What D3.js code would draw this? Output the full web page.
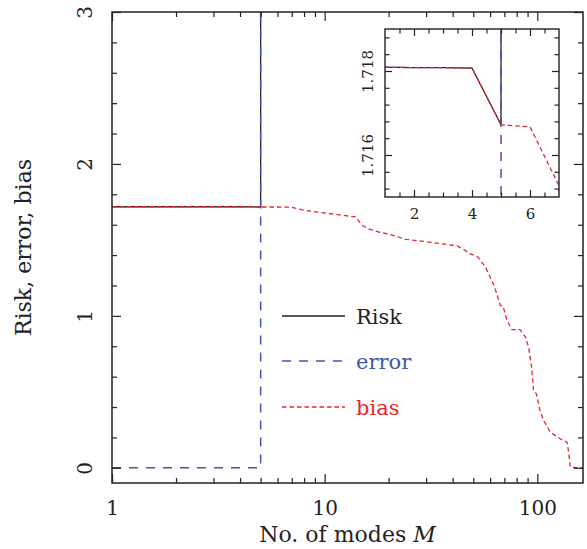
<!DOCTYPE html>
<html>
<head>
<meta charset="utf-8">
<script src="https://cdn.jsdelivr.net/npm/d3@7"></script>
<style>
  body { margin: 0; background: #fff; }
  svg { display: block; font-family: "DejaVu Serif", serif; }
</style>
</head>
<body>
<div id="chart"></div>
<script>
// values (risk and error leave the top of the plot after M = 5)
const riskM = [1, 2, 3, 4, 5, 5];
const riskVal = [1.71809, 1.71808, 1.71808, 1.71807, 1.71672, 3.2];

const errorM = [1, 5, 5];
const errorVal = [0, 0, 3.2];

const biasM = [1, 2, 3, 4, 5, 6, 7, 8, 14, 15, 16, 18, 21, 24, 31, 42, 45, 48, 52, 54,
  57, 60, 63, 67, 69, 72, 76, 83, 88, 91, 94, 96, 99, 103, 107, 115, 128, 138, 140, 143, 164];
const biasVal = [1.71809, 1.71808, 1.71808, 1.71807, 1.71672, 1.71667, 1.71527, 1.695, 1.651, 1.596,
  1.574, 1.552, 1.530, 1.504, 1.486, 1.460, 1.438, 1.410, 1.392, 1.366,
  1.322, 1.256, 1.190, 1.069, 1.063, 0.970, 0.909, 0.909, 0.860, 0.794,
  0.663, 0.509, 0.487, 0.377, 0.312, 0.235, 0.191, 0.169, 0.114, 0.004, 0];

const xMajorTicks = [1, 10, 100];
const yMajorTicks = [0, 1, 2, 3];
const insetXTicks = [2, 4, 6];
const insetYTicks = [1.716, 1.718];

const seriesNames = ["Risk", "error", "bias"];

const W = 587, H = 549;
const colors = { Risk: "#222", error: "#3d5aa8", bias: "#e8262e" };
const dashes = { Risk: null, error: "9,8", bias: "4.5,3" };

const svg = d3.select("#chart").append("svg")
  .attr("width", W).attr("height", H);

// main axes box
const main = { left: 112, top: 12, right: 583, bottom: 483 };
const x = d3.scaleLog().domain([1, 164]).range([main.left, main.right]);
const y = d3.scaleLinear().domain([-0.1, 3]).range([main.bottom, main.top]);

const xMinor = [];
[1, 10, 100].forEach(d => { for (let k = 2; k <= 9; k++) if (d * k <= 164) xMinor.push(d * k); });
const yMinor = d3.range(0, 3.001, 0.2).filter(v => Math.abs(v - Math.round(v)) > 1e-6);

svg.append("defs").append("clipPath").attr("id", "clipMain")
  .append("rect").attr("x", main.left).attr("y", main.top)
  .attr("width", main.right - main.left).attr("height", main.bottom - main.top);

function makeLine(xs, ys, sx, sy) {
  return d3.line().x(i => sx(xs[i])).y(i => sy(ys[i]))(d3.range(xs.length));
}

function drawSeries(g, sx, sy, clipId) {
  const data = {
    Risk: [riskM, riskVal],
    error: [errorM, errorVal],
    bias: [biasM, biasVal]
  };
  seriesNames.forEach(name => {
    g.append("path")
      .attr("d", makeLine(data[name][0], data[name][1], sx, sy))
      .attr("clip-path", `url(#${clipId})`)
      .attr("fill", "none")
      .attr("stroke", colors[name])
      .attr("stroke-width", name === "error" ? 1.5 : 1.3)
      .attr("stroke-dasharray", dashes[name]);
  });
}

function ticksAround(g, box, sx, sy, xMaj, xMin, yMaj, yMin, majLen, minLen) {
  // inward ticks on all four sides, using d3 axes
  const add = (axisFn, scale, vals, len, transform) => {
    const a = g.append("g").attr("transform", transform)
      .call(axisFn(scale).tickValues(vals).tickSize(len).tickFormat(""));
    a.select(".domain").remove();
    a.selectAll("line").attr("stroke", "#222").attr("stroke-width", 1.2);
  };
  add(d3.axisBottom, sx, xMaj, -majLen, `translate(0,${box.bottom})`);
  add(d3.axisBottom, sx, xMin, -minLen, `translate(0,${box.bottom})`);
  add(d3.axisTop, sx, xMaj, -majLen, `translate(0,${box.top})`);
  add(d3.axisTop, sx, xMin, -minLen, `translate(0,${box.top})`);
  add(d3.axisLeft, sy, yMaj, -majLen, `translate(${box.left},0)`);
  add(d3.axisLeft, sy, yMin, -minLen, `translate(${box.left},0)`);
  add(d3.axisRight, sy, yMaj, -majLen, `translate(${box.right},0)`);
  add(d3.axisRight, sy, yMin, -minLen, `translate(${box.right},0)`);
}

const gMain = svg.append("g");
drawSeries(gMain, x, y, "clipMain");
ticksAround(gMain, main, x, y, xMajorTicks, xMinor, yMajorTicks, yMinor, 9, 5);

gMain.append("rect")
  .attr("x", main.left).attr("y", main.top)
  .attr("width", main.right - main.left).attr("height", main.bottom - main.top)
  .attr("fill", "none").attr("stroke", "#222").attr("stroke-width", 1.5);

// tick labels
const xLab = gMain.append("g").attr("transform", `translate(0,${main.bottom})`)
  .call(d3.axisBottom(x).tickValues(xMajorTicks).tickSize(0).tickPadding(18).tickFormat(d3.format("d")));
xLab.select(".domain").remove();
xLab.selectAll("text").attr("font-family", "DejaVu Serif").attr("font-size", 20).attr("fill", "#222");

const yLab = gMain.append("g").attr("transform", `translate(${main.left},0)`)
  .call(d3.axisLeft(y).tickValues(yMajorTicks).tickSize(0).tickFormat(d3.format("d")));
yLab.select(".domain").remove();
yLab.selectAll("text")
  .attr("x", null).attr("dy", "0.36em")
  .attr("text-anchor", "middle")
  .attr("transform", "translate(-27,0) rotate(-90)")
  .attr("font-family", "DejaVu Serif").attr("font-size", 20).attr("fill", "#222");

// axis titles
const xTitle = svg.append("text")
  .attr("x", (main.left + main.right) / 2).attr("y", 542)
  .attr("text-anchor", "middle").attr("font-size", 22).attr("fill", "#222");
xTitle.append("tspan").text("No. of modes ");
xTitle.append("tspan").attr("font-style", "italic").text("M");

svg.append("text")
  .attr("transform", `translate(31,${(main.top + main.bottom) / 2}) rotate(-90)`)
  .attr("text-anchor", "middle").attr("font-size", 22).attr("fill", "#222")
  .text("Risk, error, bias");

// legend
const legendY = [316, 361, 407];
seriesNames.forEach((name, i) => {
  svg.append("line")
    .attr("x1", 282).attr("x2", 345).attr("y1", legendY[i]).attr("y2", legendY[i])
    .attr("stroke", colors[name]).attr("stroke-width", name === "error" ? 1.5 : 1.3)
    .attr("stroke-dasharray", dashes[name]);
  svg.append("text")
    .attr("x", 356).attr("y", legendY[i] + 7.5)
    .attr("font-size", 21).attr("fill", colors[name])
    .text(name);
});

// inset
const ins = { left: 385, top: 29, right: 559, bottom: 197 };
const xi = d3.scaleLinear().domain([1, 7]).range([ins.left, ins.right]);
const yi = d3.scaleLinear().domain([1.715, 1.719]).range([ins.bottom, ins.top]);
const xiMinor = d3.range(1.5, 7, 0.5).filter(v => !insetXTicks.includes(v));
const yiMinor = d3.range(1.7152, 1.719, 0.0004).filter(v => insetYTicks.every(t => Math.abs(t - v) > 1e-7));

svg.select("defs").append("clipPath").attr("id", "clipInset")
  .append("rect").attr("x", ins.left).attr("y", ins.top)
  .attr("width", ins.right - ins.left).attr("height", ins.bottom - ins.top);

const gIns = svg.append("g");
gIns.append("rect")
  .attr("x", ins.left).attr("y", ins.top)
  .attr("width", ins.right - ins.left).attr("height", ins.bottom - ins.top)
  .attr("fill", "#fff");
drawSeries(gIns, xi, yi, "clipInset");
ticksAround(gIns, ins, xi, yi, insetXTicks, xiMinor, insetYTicks, yiMinor, 7, 4.5);
gIns.append("rect")
  .attr("x", ins.left).attr("y", ins.top)
  .attr("width", ins.right - ins.left).attr("height", ins.bottom - ins.top)
  .attr("fill", "none").attr("stroke", "#222").attr("stroke-width", 1.4);

const xiLab = gIns.append("g").attr("transform", `translate(0,${ins.bottom})`)
  .call(d3.axisBottom(xi).tickValues(insetXTicks).tickSize(0).tickPadding(11).tickFormat(d3.format("d")));
xiLab.select(".domain").remove();
xiLab.selectAll("text").attr("font-family", "DejaVu Serif").attr("font-size", 15).attr("fill", "#222");

const yiLab = gIns.append("g").attr("transform", `translate(${ins.left},0)`)
  .call(d3.axisLeft(yi).tickValues(insetYTicks).tickSize(0).tickFormat(d3.format(".3f")));
yiLab.select(".domain").remove();
yiLab.selectAll("text")
  .attr("x", null).attr("dy", "0.36em")
  .attr("text-anchor", "middle")
  .attr("transform", "translate(-17,0) rotate(-90)")
  .attr("font-family", "DejaVu Serif").attr("font-size", 15).attr("fill", "#222");
</script>
</body>
</html>
